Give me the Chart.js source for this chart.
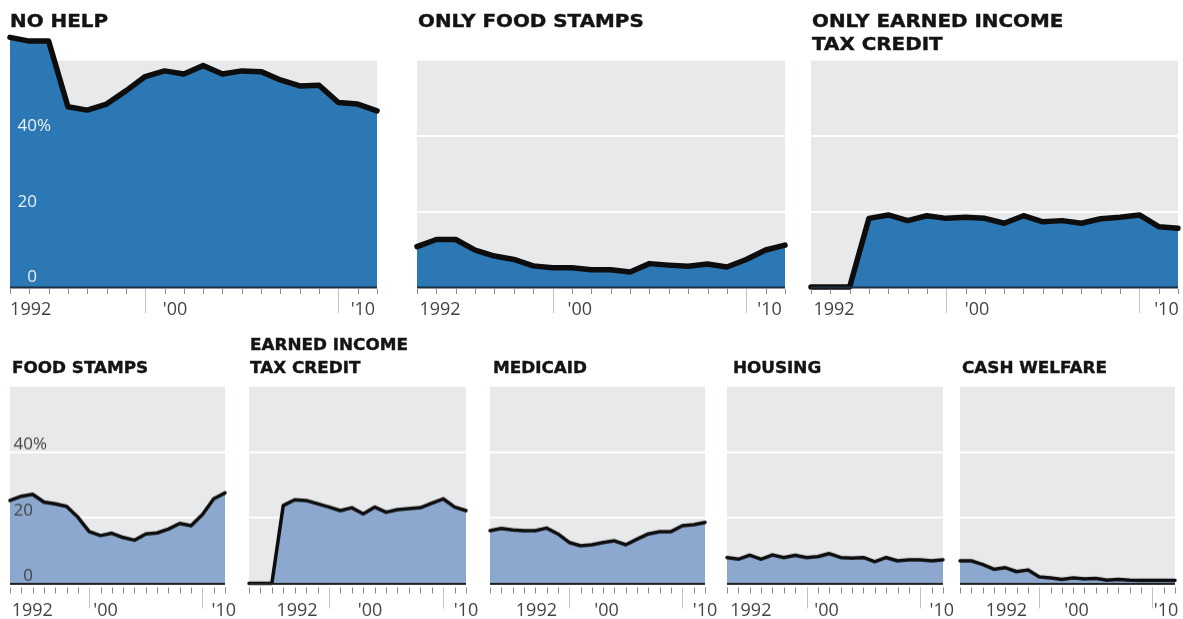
<!DOCTYPE html>
<html>
<head>
<meta charset="utf-8">
<script src="https://cdn.jsdelivr.net/npm/chart.js@4.4.1/dist/chart.umd.min.js"></script>
<style>
  body { margin: 0; background: #fff; width: 1183px; height: 619px; overflow: hidden; position: relative; }
  .panel { position: absolute; }
  .title { position: absolute; font-family: "DejaVu Sans", sans-serif; font-weight: bold; color: #141414; white-space: nowrap; transform-origin: 0 0; line-height: 23px; -webkit-text-stroke: 0.4px #141414; }
  .title.big { font-size: 17px; transform: scaleX(1.17); }
  .title.small { font-size: 16px; transform: scaleX(1.05); }
</style>
</head>
<body>
<script>
// years on the x axis, one point per year
const years = [1991, 1992, 1993, 1994, 1995, 1996, 1997, 1998, 1999, 2000,
               2001, 2002, 2003, 2004, 2005, 2006, 2007, 2008, 2009, 2010];
const tickText = ["1992", "'00", "'10"];
const yTicks = [0, 20, 40];

// share of households (%)
const noHelp = [66.2, 65.2, 65.2, 47.8, 46.9, 48.5, 52.0, 55.8, 57.3, 56.5, 58.7, 56.5, 57.3, 57.1, 54.9, 53.3, 53.5, 48.9, 48.5, 46.7];
const onlyFoodStamps = [10.7, 12.6, 12.6, 9.8, 8.2, 7.3, 5.6, 5.1, 5.1, 4.6, 4.6, 4.0, 6.2, 5.8, 5.5, 6.1, 5.3, 7.3, 9.8, 11.1];
const onlyEitc = [0, 0, 0, 18.2, 19.1, 17.6, 18.9, 18.2, 18.5, 18.2, 16.9, 18.9, 17.3, 17.6, 16.9, 18.1, 18.5, 19.1, 16.0, 15.6];
const foodStamps = [25.3, 26.6, 27.2, 24.8, 24.3, 23.5, 20.2, 15.8, 14.6, 15.3, 14.0, 13.2, 15.1, 15.4, 16.6, 18.3, 17.6, 21.0, 25.8, 27.6];
const eitc = [0, 0, 0, 23.8, 25.5, 25.3, 24.3, 23.3, 22.2, 23.1, 21.2, 23.3, 21.7, 22.5, 22.8, 23.1, 24.5, 25.8, 23.3, 22.2];
const medicaid = [16.1, 16.8, 16.3, 16.1, 16.1, 16.9, 15.1, 12.5, 11.5, 11.8, 12.5, 13.0, 11.8, 13.5, 15.1, 15.8, 15.8, 17.6, 17.9, 18.6];
const housing = [7.9, 7.4, 8.6, 7.4, 8.7, 7.9, 8.6, 7.9, 8.2, 9.1, 7.9, 7.7, 7.9, 6.6, 7.9, 6.9, 7.2, 7.2, 6.9, 7.2];
const cashWelfare = [6.9, 6.9, 5.8, 4.3, 4.8, 3.6, 4.1, 2.0, 1.7, 1.2, 1.7, 1.4, 1.5, 1.0, 1.2, 1.0, 0.9, 0.9, 0.9, 0.9];

const TOP = { y70: 23, y0: 287, fill: "rgba(31,113,177,0.94)", line: 5.5, base: "#1b2f45",
              tick: [2, 7, 26], labelY: 28, yLabOff: 5, yLabX: 27, size: "big" };
const BOT = { y70: 354, y0: 582.5, fill: "rgba(135,164,204,0.94)", line: 3.5, base: "#222",
              tick: [4, 10, 25], labelY: 32, yLabOff: 2.5, yLabX: 23, size: "small" };

const panels = [
  { title: ["NO HELP"], values: noHelp, row: TOP, x0: 10, x1: 377, tx: 10, labelAt: [1.07, 8.54, 18.27], yLabels: "#e9f0f7" },
  { title: ["ONLY FOOD STAMPS"], values: onlyFoodStamps, row: TOP, x0: 417, x1: 785, tx: 418, labelAt: [1.19, 8.41, 18.2] },
  { title: ["ONLY EARNED INCOME", "TAX CREDIT"], values: onlyEitc, row: TOP, x0: 811, x1: 1178, tx: 812, labelAt: [1.19, 8.6, 18.4] },
  { title: ["FOOD STAMPS"], values: foodStamps, row: BOT, x0: 10, x1: 225, tx: 12, labelAt: [1.97, 8.45, 18.9], yLabels: "#444" },
  { title: ["EARNED INCOME", "TAX CREDIT"], values: eitc, row: BOT, x0: 249, x1: 466, tx: 250, labelAt: [4.2, 10.6, 19.0] },
  { title: ["MEDICAID"], values: medicaid, row: BOT, x0: 490, x1: 705, tx: 493, labelAt: [4.1, 10.3, 19.0] },
  { title: ["HOUSING"], values: housing, row: BOT, x0: 727, x1: 943, tx: 733, labelAt: [2.1, 8.75, 18.9] },
  { title: ["CASH WELFARE"], values: cashWelfare, row: BOT, x0: 960, x1: 1175, tx: 962, labelAt: [4.1, 10.3, 18.2] }
];

const tallTicks = [7, 17];
const pad = { left: 8, right: 18, top: 6, bottom: 40 };

const panelDeco = {
  id: "panelDeco",
  beforeDatasetsDraw(chart) {
    const { ctx, chartArea: a, scales: { y } } = chart;
    const top = y.getPixelForValue(60);
    ctx.save();
    ctx.fillStyle = "#e8e9eb";
    ctx.fillRect(a.left, top, a.right - a.left, a.bottom - top);
    ctx.strokeStyle = "#fff";
    ctx.lineWidth = 2;
    yTicks.forEach(v => {
      if (v <= 0) return;
      const py = Math.round(y.getPixelForValue(v));
      ctx.beginPath(); ctx.moveTo(a.left, py); ctx.lineTo(a.right, py); ctx.stroke();
    });
    ctx.restore();
  },
  afterDatasetsDraw(chart) {
    const { ctx, chartArea: a, scales: { x, y } } = chart;
    const p = chart.options.plugins.panelDeco;
    const r = p.row;
    const y0 = y.getPixelForValue(0);
    ctx.save();
    // baseline
    ctx.strokeStyle = r.base;
    ctx.lineWidth = 2;
    ctx.beginPath(); ctx.moveTo(a.left, y0 + 0.5); ctx.lineTo(a.right, y0 + 0.5); ctx.stroke();
    // tick marks
    ctx.lineWidth = 1;
    years.forEach((yr, i) => {
      const px = Math.round(x.getPixelForValue(i)) + 0.5;
      const tall = tallTicks.includes(i);
      ctx.strokeStyle = tall ? "#c2c2c2" : "#8a8a8a";
      ctx.beginPath();
      ctx.moveTo(px, y0 + r.tick[0]);
      ctx.lineTo(px, y0 + (tall ? r.tick[2] : r.tick[1]));
      ctx.stroke();
    });
    // year labels
    ctx.fillStyle = "#444";
    ctx.font = '18px "Open Sans", sans-serif';
    ctx.textAlign = "center";
    ctx.textBaseline = "alphabetic";
    tickText.forEach((t, k) => {
      ctx.fillText(t, x.getPixelForValue(p.labelAt[k]), y0 + r.labelY);
    });
    // y labels
    if (p.yLabels) {
      ctx.fillStyle = p.yLabels;
      ctx.font = '17px "Open Sans", sans-serif';
      yTicks.forEach(v => {
        const py = y.getPixelForValue(v) - r.yLabOff;
        const rx = a.left + r.yLabX;
        ctx.textAlign = "right";
        ctx.fillText(String(v), rx, py);
        if (v === 40) { ctx.textAlign = "left"; ctx.fillText("%", rx, py); }
      });
    }
    ctx.restore();
  }
};

panels.forEach(p => {
  const r = p.row;
  const div = document.createElement("div");
  div.className = "panel";
  div.style.left = (p.x0 - pad.left) + "px";
  div.style.top = (r.y70 - pad.top) + "px";
  div.style.width = (p.x1 - p.x0 + pad.left + pad.right) + "px";
  div.style.height = (r.y0 - r.y70 + pad.top + pad.bottom) + "px";
  const canvas = document.createElement("canvas");
  div.appendChild(canvas);
  document.body.appendChild(div);

  new Chart(canvas, {
    type: "line",
    data: {
      labels: years,
      datasets: [{
        data: p.values,
        fill: "origin",
        backgroundColor: r.fill,
        borderColor: "#0d0d0d",
        borderWidth: r.line,
        borderJoinStyle: "round",
        borderCapStyle: "round",
        pointRadius: 0,
        tension: 0,
        clip: false
      }]
    },
    options: {
      responsive: true,
      maintainAspectRatio: false,
      animation: false,
      layout: { padding: pad },
      scales: {
        x: { type: "category", display: false, offset: false },
        y: { display: false, min: 0, max: 70 }
      },
      plugins: {
        legend: { display: false },
        tooltip: { enabled: false },
        panelDeco: { row: r, labelAt: p.labelAt, yLabels: p.yLabels }
      }
    },
    plugins: [panelDeco]
  });

  const t = document.createElement("div");
  t.className = "title " + r.size;
  t.style.left = p.tx + "px";
  const firstBaseline = r === TOP ? 27 : (p.title.length > 1 ? 350 : 373);
  t.style.top = (firstBaseline - 17.5) + "px";
  t.innerHTML = p.title.join("<br>");
  document.body.appendChild(t);
});
</script>
</body>
</html>
